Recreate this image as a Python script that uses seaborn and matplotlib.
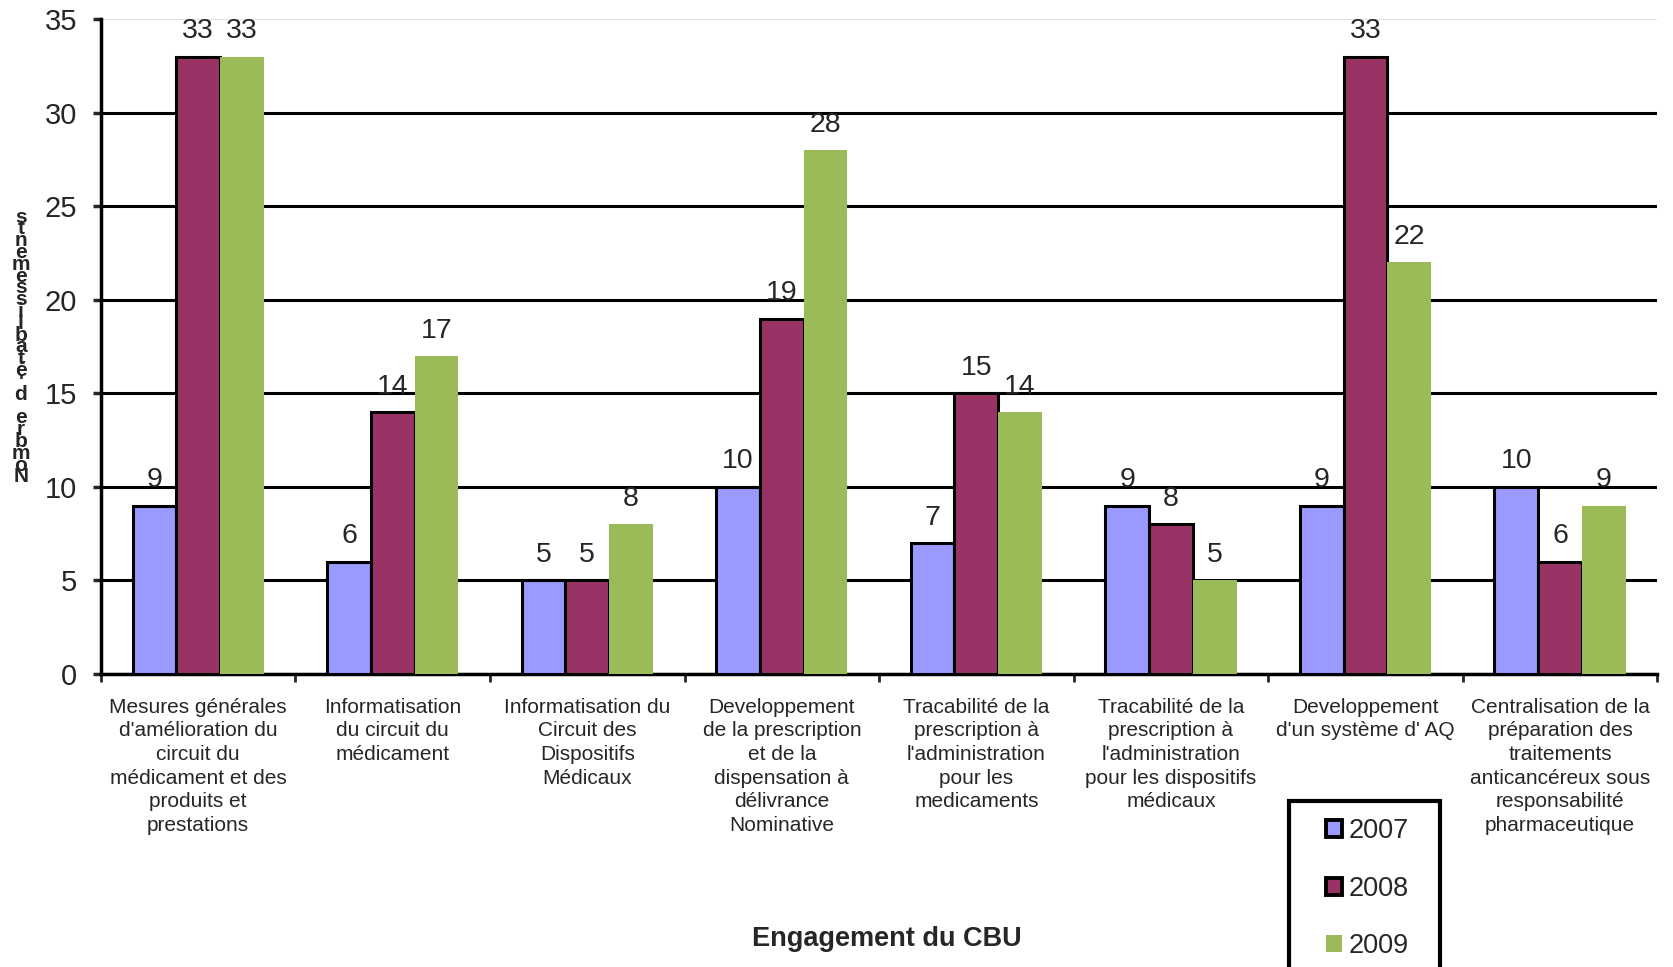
import matplotlib
matplotlib.use("Agg")
import matplotlib.pyplot as plt
from matplotlib.patches import Rectangle
import seaborn as sns
import pandas as pd

categories = [
    "Mesures générales\nd'amélioration du\ncircuit du\nmédicament et des\nproduits et\nprestations",
    "Informatisation\ndu circuit du\nmédicament",
    "Informatisation du\nCircuit des\nDispositifs\nMédicaux",
    "Developpement\nde la prescription\net de la\ndispensation à\ndélivrance\nNominative",
    "Tracabilité de la\nprescription à\nl'administration\npour les\nmedicaments",
    "Tracabilité de la\nprescription à\nl'administration\npour les dispositifs\nmédicaux",
    "Developpement\nd'un système d' AQ",
    "Centralisation de la\npréparation des\ntraitements\nanticancéreux sous\nresponsabilité\npharmaceutique",
]
years = ["2007", "2008", "2009"]
v2007 = [9, 6, 5, 10, 7, 9, 9, 10]
v2008 = [33, 14, 5, 19, 15, 8, 33, 6]
v2009 = [33, 17, 8, 28, 14, 5, 22, 9]
ylabel = "Nombre d'établissements"
xlabel = "Engagement du CBU"

colors = ["#9999FF", "#993366", "#9BBB59"]
edges = ["#000000", "#000000", "none"]

rows = []
for y, vals in zip(years, [v2007, v2008, v2009]):
    for c, v in zip(categories, vals):
        rows.append({"cat": c, "year": y, "val": v})
df = pd.DataFrame(rows)

sns.set_style("white")
plt.rcParams["font.family"] = ["Liberation Sans", "DejaVu Sans"]

fig = plt.figure(figsize=(16.74, 9.67), dpi=100)
ax = fig.add_axes([0.0603, 0.303, 0.9297, 0.677])

sns.barplot(data=df, x="cat", y="val", hue="year", palette=colors,
            width=0.675, ax=ax, saturation=1, legend=True, zorder=3)

for i, cont in enumerate(ax.containers):
    for p in cont.patches:
        p.set_edgecolor(edges[i])
        p.set_linewidth(2.2 if edges[i] != "none" else 0)
        p.set_zorder(3)
    ax.bar_label(cont, fontsize=20.5, padding=9)

ax.set_ylim(0, 35)
ax.set_yticks(range(0, 36, 5))
ax.set_xlim(-0.5, len(categories) - 0.5)
ax.yaxis.grid(True, color="black", linewidth=2.2, zorder=0)
ax.set_axisbelow(True)
gl = ax.get_ygridlines()
gl[-1].set_color("#DDDDDD")
gl[-1].set_linewidth(1.2)
for s in ["top", "right"]:
    ax.spines[s].set_visible(False)
ax.spines["left"].set_linewidth(2.5)
ax.spines["bottom"].set_linewidth(2.5)
ax.spines["left"].set_color("black")
ax.spines["bottom"].set_color("black")

ax.tick_params(axis="y", labelsize=21, length=6, width=2.5, direction="out", left=True, pad=11)
ax.set_xticks(range(len(categories)))
ax.set_xticklabels(categories, fontsize=15, linespacing=1.31)
ax.tick_params(axis="x", length=0, pad=17)
ax.set_xticks([i - 0.5 for i in range(len(categories) + 1)], minor=True)
ax.tick_params(axis="x", which="minor", length=6, width=2, direction="out", bottom=True)

ax.set_xlabel("")
ax.set_ylabel("")
fig.text(0.5295, 1 - 939 / 967, xlabel, ha="center", va="center",
         fontsize=19.5, fontweight="bold")
fig.text(0.0125, 1 - 347 / 967, "\n".join(reversed(ylabel)), ha="center", va="center",
         fontsize=15, fontweight="bold", linespacing=0.52)

handles, labels = ax.get_legend_handles_labels()
leg = ax.legend(handles, labels, loc="upper left",
                bbox_to_anchor=(1326 / 1674, 1 - 818 / 967),
                bbox_transform=fig.transFigure, frameon=False, fontsize=19.5,
                handlelength=0.6, handleheight=0.6, handletextpad=0.25,
                labelspacing=1.17, borderpad=0, borderaxespad=0)
for i, h in enumerate(leg.legend_handles):
    h.set_edgecolor(edges[i])
    h.set_linewidth(2.8 if edges[i] != "none" else 0)
fig.patches.append(Rectangle((1289 / 1674, -0.02), (1440 - 1289) / 1674, (967 - 801) / 967 + 0.02,
                             transform=fig.transFigure, fill=False, edgecolor="black",
                             linewidth=3, zorder=5))

fig.savefig("out.png", dpi=100)
